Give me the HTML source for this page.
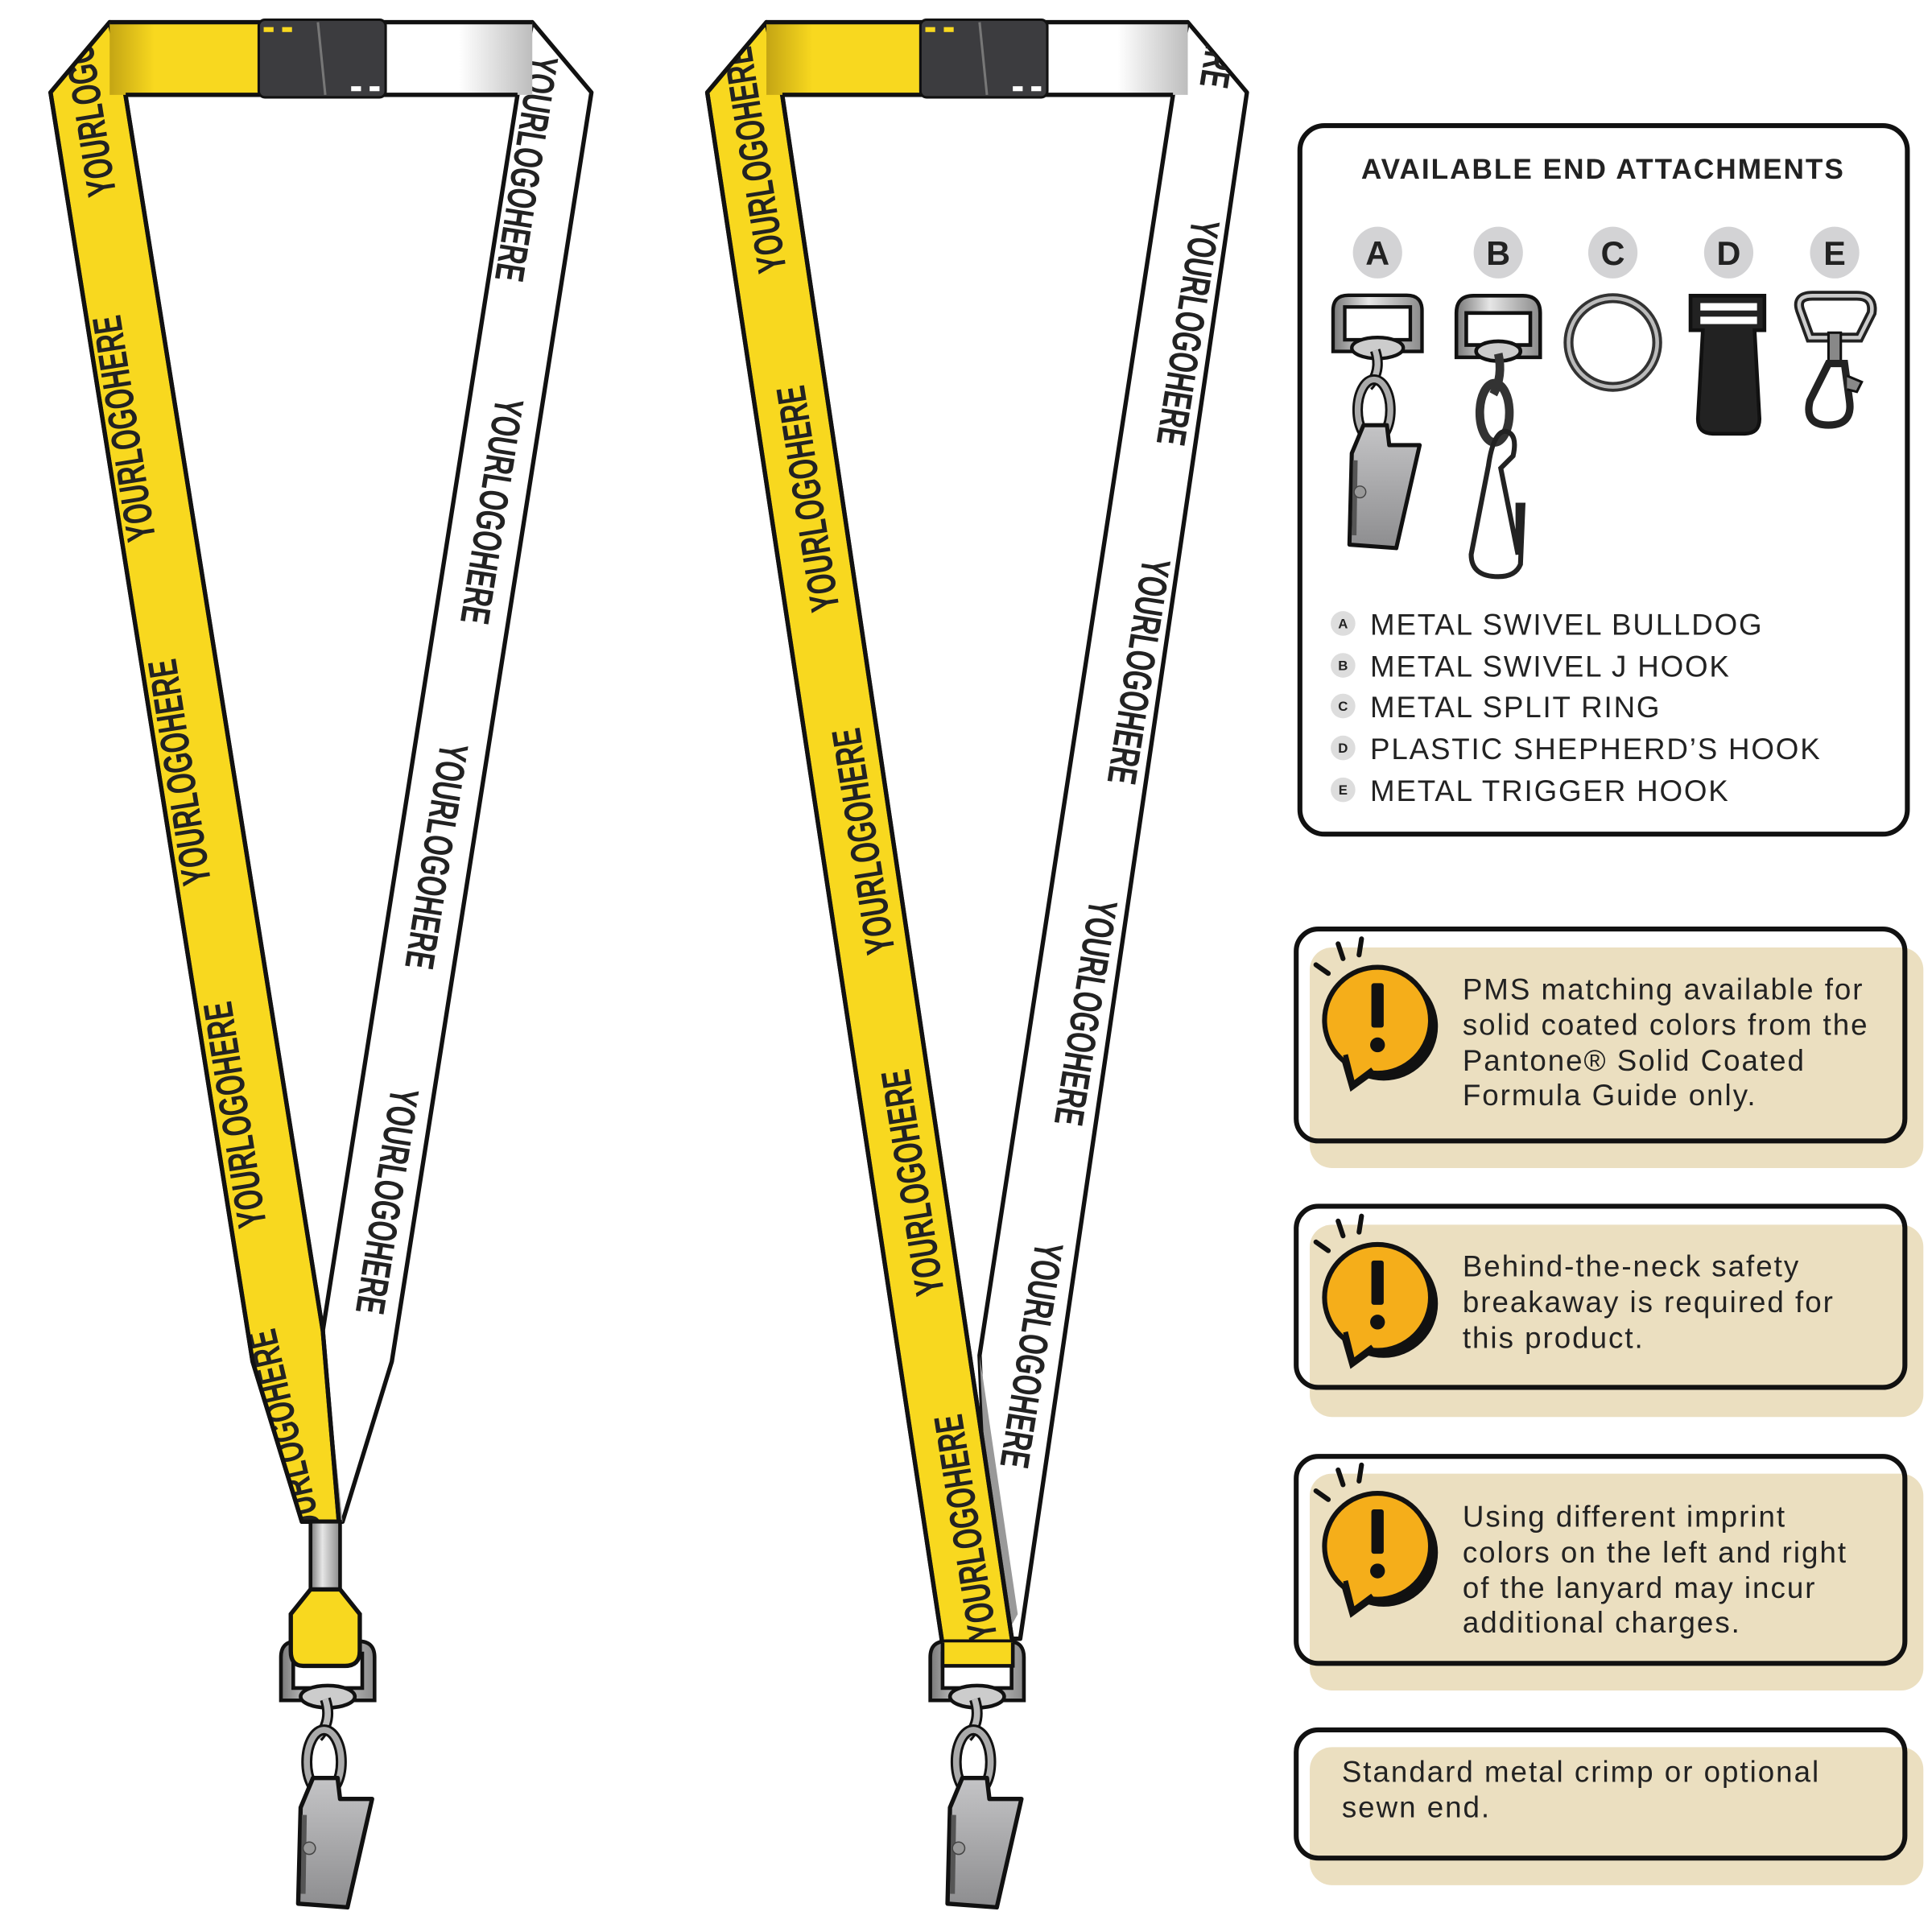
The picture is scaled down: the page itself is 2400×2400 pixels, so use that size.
<!DOCTYPE html>
<html><head><meta charset="utf-8"><style>
html,body{margin:0;padding:0;background:#fff}
svg{display:block}
.logo{font-family:"Liberation Sans",sans-serif;font-weight:bold;font-size:33px;fill:#222}
.t{font-family:"Liberation Sans",sans-serif;fill:#222}
</style></head><body>
<svg width="2400" height="2400" viewBox="0 0 1568 1568" xmlns="http://www.w3.org/2000/svg">
<defs>
<linearGradient id="yb" x1="0" x2="1"><stop offset="0" stop-color="#c4a514"/><stop offset="0.3" stop-color="#f8d81f"/><stop offset="1" stop-color="#f8d81f"/></linearGradient>
<linearGradient id="wb" x1="0" x2="1"><stop offset="0" stop-color="#fff"/><stop offset="0.5" stop-color="#fff"/><stop offset="1" stop-color="#bdbdbd"/></linearGradient>
<linearGradient id="met" x1="0" x2="1"><stop offset="0" stop-color="#777"/><stop offset="0.4" stop-color="#e6e6e6"/><stop offset="1" stop-color="#8a8a8a"/></linearGradient>
<linearGradient id="clipg" x1="0" y1="0" x2="0" y2="1"><stop offset="0" stop-color="#c4c4c6"/><stop offset="1" stop-color="#8d8d8f"/></linearGradient>
<clipPath id="cY1"><polygon points="41,75 89,18 102,78 262,1080 275,1235 245,1235 205,1105"/></clipPath>
<clipPath id="cW1"><polygon points="432,18 480,75 318,1105 278,1235 262,1235 262,1080 420,77"/></clipPath>
<clipPath id="cY2"><polygon points="574,75 622,18 635,78 822,1335 765,1335"/></clipPath>
<clipPath id="cW2"><polygon points="964,18 1012,75 828,1330 805,1330 795,1100 952,77"/></clipPath>
<g id="bulldog">
  <path d="M-38,-5 L-38,-40 Q-38,-53 -25,-53 L25,-53 Q38,-53 38,-40 L38,-5 Z M-28,-15 L28,-15 L28,-43 L-28,-43 Z" fill="url(#met)" fill-rule="evenodd" stroke="#111" stroke-width="3"/>
  <ellipse cx="0" cy="-8" rx="22" ry="9" fill="#ccc" stroke="#111" stroke-width="3"/>
  <path d="M-2,-6 Q4,12 -8,25" fill="none" stroke="#111" stroke-width="9"/>
  <path d="M-2,-6 Q4,12 -8,25" fill="none" stroke="#bbb" stroke-width="5"/>
  <ellipse cx="-3" cy="45" rx="14" ry="26" fill="none" stroke="#111" stroke-width="9"/>
  <ellipse cx="-3" cy="45" rx="14" ry="26" fill="none" stroke="#aaa" stroke-width="5"/>
  <path d="M-24,160 L-22,82 L-12,58 L8,58 L10,75 L36,75 L16,163 Z" fill="url(#clipg)" stroke="#111" stroke-width="3.5" stroke-linejoin="round"/>
  <path d="M-20,152 L-19,88" stroke="#555" stroke-width="4"/>
  <circle cx="-15" cy="115" r="5" fill="#999" stroke="#444"/>
</g>
<g id="warn">
  <circle cx="5" cy="5" r="44" fill="#111"/>
  <path d="M-30,30 L-22,58 L0,42 Z" fill="#111"/>
  <circle cx="0" cy="0" r="43" fill="#f5ae1a" stroke="#111" stroke-width="4"/>
  <path d="M-26,28 L-20,52 L-4,40" fill="#f5ae1a" stroke="#111" stroke-width="4" stroke-linejoin="round"/>
  <rect x="-5" y="-30" width="10" height="36" rx="2" fill="#111"/>
  <circle cx="0" cy="20" r="6" fill="#111"/>
  <path d="M-50,-45 L-40,-38 M-32,-62 L-28,-50 M-13,-66 L-15,-53" stroke="#111" stroke-width="4" stroke-linecap="round"/>
</g>
</defs>

<!-- LEFT LANYARD -->
<polygon points="432,18 480,75 318,1105 278,1235 262,1235 262,1080 420,77" fill="#fff" stroke="#111" stroke-width="3.5" stroke-linejoin="round"/>
<polygon points="262,1080 278,1235 266,1235 262,1130" fill="#999"/>
<g clip-path="url(#cW1)">
<text class="logo" textLength="185" lengthAdjust="spacingAndGlyphs" transform="translate(428,137) rotate(99)" text-anchor="middle" dy="12">YOURLOGOHERE</text>
<text class="logo" textLength="185" lengthAdjust="spacingAndGlyphs" transform="translate(400,415) rotate(99)" text-anchor="middle" dy="12">YOURLOGOHERE</text>
<text class="logo" textLength="185" lengthAdjust="spacingAndGlyphs" transform="translate(355,695) rotate(99)" text-anchor="middle" dy="12">YOURLOGOHERE</text>
<text class="logo" textLength="185" lengthAdjust="spacingAndGlyphs" transform="translate(315,975) rotate(99)" text-anchor="middle" dy="12">YOURLOGOHERE</text>
</g>
<polygon points="41,75 89,18 102,78 262,1080 275,1235 245,1235 205,1105" fill="#f8d81f" stroke="#111" stroke-width="3.5" stroke-linejoin="round"/>
<g clip-path="url(#cY1)">
<text class="logo" textLength="185" lengthAdjust="spacingAndGlyphs" transform="translate(68,68) rotate(-99)" text-anchor="middle" dy="12">YOURLOGOHERE</text>
<text class="logo" textLength="185" lengthAdjust="spacingAndGlyphs" transform="translate(100,348) rotate(-99)" text-anchor="middle" dy="12">YOURLOGOHERE</text>
<text class="logo" textLength="185" lengthAdjust="spacingAndGlyphs" transform="translate(145,627) rotate(-99)" text-anchor="middle" dy="12">YOURLOGOHERE</text>
<text class="logo" textLength="185" lengthAdjust="spacingAndGlyphs" transform="translate(190,905) rotate(-99)" text-anchor="middle" dy="12">YOURLOGOHERE</text>
<text class="logo" textLength="185" lengthAdjust="spacingAndGlyphs" transform="translate(232,1170) rotate(-103)" text-anchor="middle" dy="12">YOURLOGOHERE</text>
</g>
<polygon points="41,75 89,18 102,78 262,1080 275,1235 245,1235 205,1105" fill="none" stroke="#111" stroke-width="3.5" stroke-linejoin="round"/>
<rect x="89" y="18" width="121" height="59" fill="url(#yb)"/>
<rect x="313" y="18" width="119" height="59" fill="url(#wb)"/>
<line x1="89" y1="18" x2="432" y2="18" stroke="#111" stroke-width="3.5"/>
<line x1="102" y1="77" x2="420" y2="77" stroke="#111" stroke-width="3.5"/>
<rect x="210" y="16" width="103" height="63" rx="5" fill="#3c3c3f" stroke="#111" stroke-width="2"/>
<line x1="258" y1="18" x2="264" y2="77" stroke="#777" stroke-width="2"/>
<rect x="214" y="22" width="8" height="4" fill="#f8d81f"/><rect x="229" y="22" width="8" height="4" fill="#f8d81f"/>
<rect x="285" y="70" width="8" height="4" fill="#fff"/><rect x="300" y="70" width="8" height="4" fill="#fff"/>
<!-- crimp -->
<use href="#bulldog" x="266" y="1385"/>
<rect x="252" y="1235" width="24" height="55" fill="url(#met)" stroke="#111" stroke-width="3"/>
<path d="M252,1290 L276,1290 L292,1310 L292,1340 Q292,1352 280,1352 L246,1352 Q236,1352 236,1340 L236,1310 Z" fill="#f8d81f" stroke="#111" stroke-width="3.5"/>

<!-- RIGHT LANYARD -->
<polygon points="964,18 1012,75 828,1330 805,1330 795,1100 952,77" fill="#fff" stroke="#111" stroke-width="3.5" stroke-linejoin="round"/>
<polygon points="795,1100 826,1310 815,1330 800,1200" fill="#999"/>
<g clip-path="url(#cW2)">
<text class="logo" textLength="185" lengthAdjust="spacingAndGlyphs" transform="translate(1000,-20) rotate(99)" text-anchor="middle" dy="12">YOURLOGOHERE</text>
<text class="logo" textLength="185" lengthAdjust="spacingAndGlyphs" transform="translate(965,270) rotate(99)" text-anchor="middle" dy="12">YOURLOGOHERE</text>
<text class="logo" textLength="185" lengthAdjust="spacingAndGlyphs" transform="translate(925,545) rotate(99)" text-anchor="middle" dy="12">YOURLOGOHERE</text>
<text class="logo" textLength="185" lengthAdjust="spacingAndGlyphs" transform="translate(882,822) rotate(99)" text-anchor="middle" dy="12">YOURLOGOHERE</text>
<text class="logo" textLength="185" lengthAdjust="spacingAndGlyphs" transform="translate(838,1100) rotate(99)" text-anchor="middle" dy="12">YOURLOGOHERE</text>
</g>
<polygon points="574,75 622,18 635,78 822,1335 765,1335" fill="#f8d81f" stroke="#111" stroke-width="3.5" stroke-linejoin="round"/>
<g clip-path="url(#cY2)">
<text class="logo" textLength="185" lengthAdjust="spacingAndGlyphs" transform="translate(612,130) rotate(-99)" text-anchor="middle" dy="12">YOURLOGOHERE</text>
<text class="logo" textLength="185" lengthAdjust="spacingAndGlyphs" transform="translate(655,405) rotate(-99)" text-anchor="middle" dy="12">YOURLOGOHERE</text>
<text class="logo" textLength="185" lengthAdjust="spacingAndGlyphs" transform="translate(700,683) rotate(-99)" text-anchor="middle" dy="12">YOURLOGOHERE</text>
<text class="logo" textLength="185" lengthAdjust="spacingAndGlyphs" transform="translate(740,960) rotate(-99)" text-anchor="middle" dy="12">YOURLOGOHERE</text>
<text class="logo" textLength="185" lengthAdjust="spacingAndGlyphs" transform="translate(783,1240) rotate(-99)" text-anchor="middle" dy="12">YOURLOGOHERE</text>
</g>
<polygon points="574,75 622,18 635,78 822,1335 765,1335" fill="none" stroke="#111" stroke-width="3.5" stroke-linejoin="round"/>
<rect x="622" y="18" width="125" height="59" fill="url(#yb)"/>
<rect x="850" y="18" width="114" height="59" fill="url(#wb)"/>
<line x1="622" y1="18" x2="964" y2="18" stroke="#111" stroke-width="3.5"/>
<line x1="635" y1="77" x2="952" y2="77" stroke="#111" stroke-width="3.5"/>
<rect x="747" y="16" width="103" height="63" rx="5" fill="#3c3c3f" stroke="#111" stroke-width="2"/>
<line x1="795" y1="18" x2="801" y2="77" stroke="#777" stroke-width="2"/>
<rect x="751" y="22" width="8" height="4" fill="#f8d81f"/><rect x="766" y="22" width="8" height="4" fill="#f8d81f"/>
<rect x="822" y="70" width="8" height="4" fill="#fff"/><rect x="837" y="70" width="8" height="4" fill="#fff"/>
<use href="#bulldog" x="793" y="1385"/>
<path d="M765,1333 L765,1352 L822,1352 L822,1333" fill="#f8d81f" stroke="#111" stroke-width="3"/>

<!-- ATTACHMENTS BOX -->
<rect x="1055" y="102" width="493" height="575" rx="20" fill="#fff" stroke="#111" stroke-width="4"/>
<text class="t" x="1301" y="145" font-size="23" font-weight="bold" text-anchor="middle" letter-spacing="1.3">AVAILABLE END ATTACHMENTS</text>
<g font-family="Liberation Sans,sans-serif" font-weight="bold" font-size="27" text-anchor="middle" fill="#222">
<ellipse cx="1118" cy="205" rx="20" ry="21" fill="#d3d3d5"/><text x="1118" y="215">A</text>
<ellipse cx="1216" cy="205" rx="20" ry="21" fill="#d3d3d5"/><text x="1216" y="215">B</text>
<ellipse cx="1309" cy="205" rx="20" ry="21" fill="#d3d3d5"/><text x="1309" y="215">C</text>
<ellipse cx="1403" cy="205" rx="20" ry="21" fill="#d3d3d5"/><text x="1403" y="215">D</text>
<ellipse cx="1489" cy="205" rx="20" ry="21" fill="#d3d3d5"/><text x="1489" y="215">E</text>
</g>
<g transform="translate(1118,290) scale(0.95)"><use href="#bulldog"/></g>
<!-- B -->
<g transform="translate(1216,290)">
  <path d="M-34,0 L-34,-36 Q-34,-50 -20,-50 L20,-50 Q34,-50 34,-36 L34,0 Z M-26,-10 L26,-10 L26,-36 L-26,-36 Z" fill="url(#met)" fill-rule="evenodd" stroke="#111" stroke-width="3"/>
  <ellipse cx="0" cy="-5" rx="18" ry="8" fill="#ccc" stroke="#111" stroke-width="3"/>
  <path d="M0,-3 Q4,15 -4,30" fill="none" stroke="#333" stroke-width="7"/>
  <ellipse cx="-3" cy="45" rx="12" ry="24" fill="none" stroke="#333" stroke-width="7"/>
  <path d="M-8,88 Q-4,60 6,60 Q16,62 12,80 L2,90 L16,160 L16,120 L20,120 L18,168 Q14,178 0,178 Q-22,178 -22,160 Z" fill="none" stroke="#222" stroke-width="4"/>
</g>
<circle cx="1309" cy="278" r="36" fill="none" stroke="#333" stroke-width="8"/>
<circle cx="1309" cy="278" r="36" fill="none" stroke="#bbb" stroke-width="3"/>
<!-- D -->
<path d="M1372,240 L1432,240 L1432,268 L1424,268 L1428,340 Q1428,352 1416,352 L1390,352 Q1378,352 1378,340 L1382,268 L1372,268 Z" fill="#222" stroke="#111" stroke-width="3"/>
<rect x="1380" y="246" width="46" height="6" fill="#fff"/><rect x="1380" y="257" width="46" height="6" fill="#fff"/>
<!-- E -->
<g transform="translate(1489,290)">
  <path d="M-28,-38 Q-32,-50 -18,-50 L18,-50 Q32,-50 30,-36 L20,-16 L-20,-16 Z" fill="none" stroke="#222" stroke-width="8"/>
  <path d="M-28,-38 Q-32,-50 -18,-50 L18,-50 Q32,-50 30,-36 L20,-16 L-20,-16 Z" fill="none" stroke="#ccc" stroke-width="3"/>
  <rect x="-5" y="-20" width="10" height="25" fill="#888" stroke="#111" stroke-width="2"/>
  <path d="M-5,5 L-20,35 Q-25,55 -5,55 Q15,55 12,35 L8,5 Z" fill="none" stroke="#222" stroke-width="6"/>
  <path d="M10,15 L22,20 L18,28 L10,26" fill="#888" stroke="#111" stroke-width="2"/>
</g>
<g font-family="Liberation Sans,sans-serif" font-size="24" fill="#222">
<g font-size="11" font-weight="bold" text-anchor="middle">
<circle cx="1090" cy="506" r="10" fill="#ddd"/><text x="1090" y="510">A</text>
<circle cx="1090" cy="540" r="10" fill="#ddd"/><text x="1090" y="544">B</text>
<circle cx="1090" cy="573" r="10" fill="#ddd"/><text x="1090" y="577">C</text>
<circle cx="1090" cy="607" r="10" fill="#ddd"/><text x="1090" y="611">D</text>
<circle cx="1090" cy="641" r="10" fill="#ddd"/><text x="1090" y="645">E</text>
</g>
<g letter-spacing="1.2">
<text x="1112" y="515">METAL SWIVEL BULLDOG</text>
<text x="1112" y="549">METAL SWIVEL J HOOK</text>
<text x="1112" y="582">METAL SPLIT RING</text>
<text x="1112" y="616">PLASTIC SHEPHERD’S HOOK</text>
<text x="1112" y="650">METAL TRIGGER HOOK</text>
</g>
</g>

<!-- NOTES -->
<g font-family="Liberation Sans,sans-serif" font-size="24" fill="#222">
<rect x="1052" y="754" width="494" height="172" rx="18" fill="#fff"/>
<rect x="1063" y="769" width="498" height="179" rx="18" fill="#ebdfc0"/>
<rect x="1052" y="754" width="494" height="172" rx="18" fill="none" stroke="#111" stroke-width="4"/>
<use href="#warn" x="1118" y="828"/>
<g letter-spacing="1.3">
<text x="1187" y="811">PMS matching available for</text>
<text x="1187" y="840">solid coated colors from the</text>
<text x="1187" y="869">Pantone® Solid Coated</text>
<text x="1187" y="897">Formula Guide only.</text>
</g>

<rect x="1052" y="979" width="494" height="147" rx="18" fill="#fff"/>
<rect x="1063" y="994" width="498" height="156" rx="18" fill="#ebdfc0"/>
<rect x="1052" y="979" width="494" height="147" rx="18" fill="none" stroke="#111" stroke-width="4"/>
<use href="#warn" x="1118" y="1053"/>
<g letter-spacing="1.3">
<text x="1187" y="1036">Behind-the-neck safety</text>
<text x="1187" y="1065">breakaway is required for</text>
<text x="1187" y="1094">this product.</text>
</g>

<rect x="1052" y="1182" width="494" height="168" rx="18" fill="#fff"/>
<rect x="1063" y="1196" width="498" height="176" rx="18" fill="#ebdfc0"/>
<rect x="1052" y="1182" width="494" height="168" rx="18" fill="none" stroke="#111" stroke-width="4"/>
<use href="#warn" x="1118" y="1255"/>
<g letter-spacing="1.3">
<text x="1187" y="1239">Using different imprint</text>
<text x="1187" y="1268">colors on the left and right</text>
<text x="1187" y="1297">of the lanyard may incur</text>
<text x="1187" y="1325">additional charges.</text>
</g>

<rect x="1052" y="1404" width="494" height="104" rx="18" fill="#fff"/>
<rect x="1063" y="1418" width="498" height="112" rx="18" fill="#ebdfc0"/>
<rect x="1052" y="1404" width="494" height="104" rx="18" fill="none" stroke="#111" stroke-width="4"/>
<g letter-spacing="1.3">
<text x="1089" y="1446">Standard metal crimp or optional</text>
<text x="1089" y="1475">sewn end.</text>
</g>
</g>
</svg>
</body></html>
